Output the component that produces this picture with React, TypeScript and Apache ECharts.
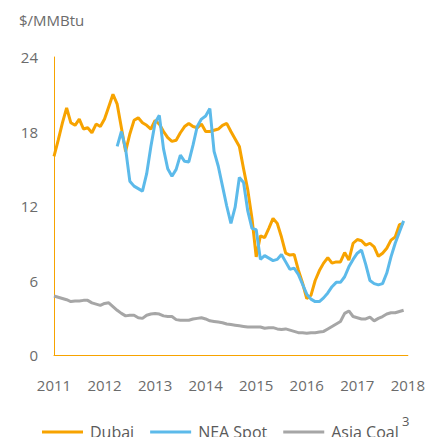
import React, { useEffect, useRef } from "react";
import * as echarts from "echarts";

const START_YEAR = 2011;
const yearTicks = [2011, 2012, 2013, 2014, 2015, 2016, 2017, 2018];

// Monthly values, Jan 2011 .. Dec 2017
const dubai = [
  16.0, 17.3, 18.7, 19.9, 18.7, 18.5, 19.0, 18.2, 18.3, 17.9, 18.6, 18.4,
  19.0, 20.0, 21.0, 20.2, 18.3, 16.4, 17.8, 18.9, 19.1, 18.7, 18.5, 18.2,
  18.9, 18.6, 18.0, 17.5, 17.2, 17.3, 17.9, 18.4, 18.65, 18.4, 18.3, 18.6,
  18.0, 18.0, 18.1, 18.2, 18.5, 18.65, 18.0, 17.4, 16.8, 15.0, 13.3, 11.0,
  7.9, 9.6, 9.45, 10.2, 11.0, 10.6, 9.5, 8.2, 8.05, 8.1, 6.85, 5.8,
  4.55, 4.8, 6.0, 6.8, 7.4, 7.85, 7.4, 7.5, 7.5, 8.25, 7.65, 9.0,
  9.3, 9.2, 8.85, 9.0, 8.7, 7.95, 8.2, 8.6, 9.25, 9.5, 10.5, 10.6,
];

// NEA Spot starts Apr 2012 (month index 15)
const NEA_START = 15;
const neaSpot = [
  16.8, 18.0, 16.6, 14.0, 13.6, 13.4, 13.2, 14.6, 16.8,
  18.7, 19.3, 16.6, 15.0, 14.4, 14.95, 16.1, 15.6, 15.55, 16.9, 18.4, 19.0,
  19.25, 19.85, 16.4, 15.2, 13.6, 12.0, 10.6, 11.9, 14.3, 13.9, 11.6, 10.2,
  10.1, 7.7, 8.0, 7.8, 7.6, 7.7, 8.1, 7.5, 6.9, 7.0, 6.5, 5.7,
  4.9, 4.5, 4.3, 4.3, 4.6, 5.0, 5.5, 5.85, 5.85, 6.3, 7.1, 7.7,
  8.2, 8.45, 7.3, 6.0, 5.75, 5.65, 5.75, 6.6, 7.9, 9.0, 9.9, 10.8,
];

const asiaCoal = [
  4.75, 4.65, 4.55, 4.45, 4.3, 4.35, 4.35, 4.4, 4.4, 4.2, 4.1, 4.0,
  4.15, 4.2, 3.9, 3.6, 3.35, 3.15, 3.2, 3.2, 3.0, 2.95, 3.2, 3.3,
  3.35, 3.3, 3.15, 3.1, 3.1, 2.85, 2.8, 2.8, 2.8, 2.9, 2.95, 3.0,
  2.9, 2.75, 2.7, 2.65, 2.6, 2.5, 2.45, 2.4, 2.35, 2.3, 2.25, 2.25,
  2.25, 2.25, 2.15, 2.2, 2.2, 2.1, 2.05, 2.1, 2.0, 1.9, 1.8, 1.8,
  1.75, 1.8, 1.8, 1.85, 1.9, 2.1, 2.3, 2.5, 2.7, 3.35, 3.55, 3.1,
  3.0, 2.9, 2.9, 3.05, 2.75, 2.95, 3.1, 3.3, 3.4, 3.4, 3.5, 3.6,
];

const seriesNames = ["Dubai", "NEA Spot", "Asia Coal"];
const yTicks = [0, 6, 12, 18, 24];

const toPoints = (arr: number[], offset: number) =>
  arr.map((v, i) => [START_YEAR + (i + offset) / 12, v]);

export default function App() {
  const ref = useRef<HTMLDivElement>(null);
  useEffect(() => {
    if (!ref.current) return;
    const chart = echarts.init(ref.current, null, { renderer: "svg" });
    const font = "'Open Sans', 'Noto Sans', sans-serif";
    const orange = "#F7A300";
    const blue = "#5CBAEA";
    const grey = "#A6A6A6";
    chart.setOption({
      animation: false,
      textStyle: { fontFamily: font },
      grid: { left: 54, right: 19, top: 57, bottom: 82 },
      xAxis: {
        type: "value",
        min: yearTicks[0],
        max: yearTicks[yearTicks.length - 1],
        interval: 1,
        axisLine: { show: true, lineStyle: { color: orange, width: 1 } },
        axisTick: { show: false },
        splitLine: { show: false },
        axisLabel: {
          color: "#6b6b6b",
          fontSize: 15,
          margin: 22,
          fontFamily: font,
          formatter: (v: number) => String(v),
        },
      },
      yAxis: {
        type: "value",
        min: yTicks[0],
        max: yTicks[yTicks.length - 1],
        interval: 6,
        axisLine: { show: true, lineStyle: { color: orange, width: 1 } },
        axisTick: { show: false },
        splitLine: { show: false },
        axisLabel: { color: "#6b6b6b", fontSize: 15, margin: 16, fontFamily: font },
      },
      legend: {
        data: seriesNames,
        left: 37,
        top: 419,
        icon: "rect",
        itemWidth: 41,
        itemHeight: 3,
        itemGap: 16,
        textStyle: { color: "#5a5a5a", fontSize: 16, fontFamily: font, padding: [0, 0, 0, 2] },
      },
      graphic: [
        {
          type: "text",
          left: 19,
          top: 12,
          style: { text: "$/MMBtu", fill: "#6b6b6b", font: `15px ${font}` },
        },
        {
          type: "text",
          left: 402,
          top: 414,
          style: { text: "3", fill: "#5a5a5a", font: `13px ${font}` },
        },
      ],
      series: [
        {
          name: seriesNames[0],
          type: "line",
          data: toPoints(dubai, 0),
          showSymbol: false,
          lineStyle: { color: orange, width: 3 },
          itemStyle: { color: orange },
          z: 3,
        },
        {
          name: seriesNames[1],
          type: "line",
          data: toPoints(neaSpot, NEA_START),
          showSymbol: false,
          lineStyle: { color: blue, width: 3 },
          itemStyle: { color: blue },
          z: 4,
        },
        {
          name: seriesNames[2],
          type: "line",
          data: toPoints(asiaCoal, 0),
          showSymbol: false,
          lineStyle: { color: grey, width: 3 },
          itemStyle: { color: grey },
          z: 2,
        },
      ],
    });
    return () => chart.dispose();
  }, []);
  return <div ref={ref} style={{ width: 428, height: 437, position: "absolute", left: 0, top: 0 }} />;
}
